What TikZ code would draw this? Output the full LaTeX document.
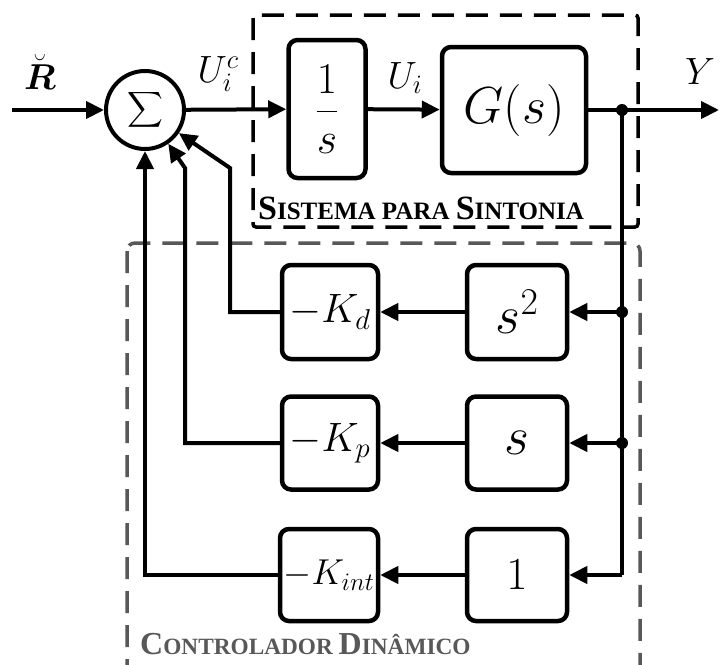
\RequirePackage{fix-cm}
\documentclass[tikz,border=0pt]{standalone}
\usepackage{amsmath}
\usepackage{fontspec}
\usetikzlibrary{arrows.meta}
\newfontfamily\tnr{Liberation Serif}
\definecolor{dgrey}{RGB}{88,88,88}
\newcommand\fsc[4]{{\fontsize{#1}{#1}\selectfont #3}{\fontsize{#2}{#2}\selectfont #4}}
\newcommand\fz[1]{\fontsize{#1}{#1}\selectfont}
\begin{document}
\begin{tikzpicture}[x=1pt,y=-1pt,
  blk/.style={draw, line width=4.5pt, rounded corners=9pt, inner sep=0pt, fill=white},
  sumc/.style={draw, circle, line width=4pt, minimum size=78pt, inner sep=0pt, fill=white},
  conn/.style={line width=4pt},
  arr/.style={conn, -{Triangle[length=18pt,width=17pt]}},
  dot/.style={circle, fill, inner sep=0pt, minimum size=12pt},
  lbl/.style={inner sep=0pt},
  dbox/.style={line width=3.5pt, dash pattern=on 22pt off 12pt}]
\useasboundingbox (0,0) rectangle (720,664);
% dashed frames
\draw[dbox, rounded corners=3pt] (253,15) rectangle (638,227);
\draw[dbox, dgrey, rounded corners=8pt] (127,243) rectangle (640,720);
% nodes
\node[sumc] (sum) at (145,110) {\fz{28}$\displaystyle\sum$};
\node[blk, minimum width=77pt, minimum height=138pt] (int) at (327,109) {\fz{44}$\displaystyle\frac{1}{s}$};
\node[blk, minimum width=144pt, minimum height=126pt] (G) at (514,110) {\fz{52}$G(s)$};
\node[blk, minimum width=96pt, minimum height=94pt] (Kd) at (330,312) {\fz{41}$-K_d$};
\node[blk, minimum width=100pt, minimum height=94pt] (s2) at (517,312) {\fz{54}$s^2$};
\node[blk, minimum width=96pt, minimum height=93pt] (Kp) at (330,443) {\fz{41}$-K_p$};
\node[blk, minimum width=100pt, minimum height=93pt] (s1) at (517,443) {\fz{54}$s$};
\node[blk, minimum width=98pt, minimum height=92pt] (Ki) at (329,575) {\fz{36}$-K_{int}$};
\node[blk, minimum width=100pt, minimum height=92pt] (one) at (517,575) {\fz{46}$1$};
% coordinates
\coordinate (rin) at (12,110);
\coordinate (j0) at (622,110);
\coordinate (yout) at (719,110);
\coordinate (j1) at (622,312);
\coordinate (j2) at (622,443);
\coordinate (j3) at (622,575);
\coordinate (bd) at (230,168);
\coordinate (bp) at (185,168);
% connectors
\draw[arr] (rin) -- (sum);
\draw[arr] (sum) -- (int);
\draw[arr] (int) -- (G);
\draw[conn] (G) -- (j0);
\draw[arr] (j0) -- (yout);
\draw[conn] (j0) -- (j3);
\draw[arr] (j3) -- (one);
\draw[arr] (j1) -- (s2);
\draw[arr] (j2) -- (s1);
\draw[arr] (s2) -- (Kd);
\draw[arr] (s1) -- (Kp);
\draw[arr] (one) -- (Ki);
\draw[arr] (Kd) -| (bd) -- (sum);
\draw[arr] (Kp) -| (bp) -- (sum);
\draw[arr] (Ki) -| (sum);
\node[dot] (d0) at (j0) {};
\node[dot] (d1) at (j1) {};
\node[dot] (d2) at (j2) {};
% labels
\node[lbl] (lr) at (40,72) {\fz{36}$\breve{\boldsymbol{R}}$};
\node[lbl] (luc) at (218,74) {\fz{38}$U_i^c$};
\node[lbl] (lui) at (405,78) {\fz{38}$U_i$};
\node[lbl] (ly) at (700,72) {\fz{38}$Y$};
\node[lbl, anchor=base west] (ts) at (258,219) {\tnr\bfseries\fz{25}\fsc{34}{25}{S}{ISTEMA} \fsc{34}{25}{}{PARA} \fsc{34}{25}{S}{INTONIA}};
\node[lbl, anchor=base west, text=dgrey] (tc) at (140,654) {\tnr\bfseries\fz{23.3}\fsc{32}{23.3}{C}{ONTROLADOR} \fsc{32}{23.3}{D}{INÂMICO}};
\end{tikzpicture}
\end{document}
